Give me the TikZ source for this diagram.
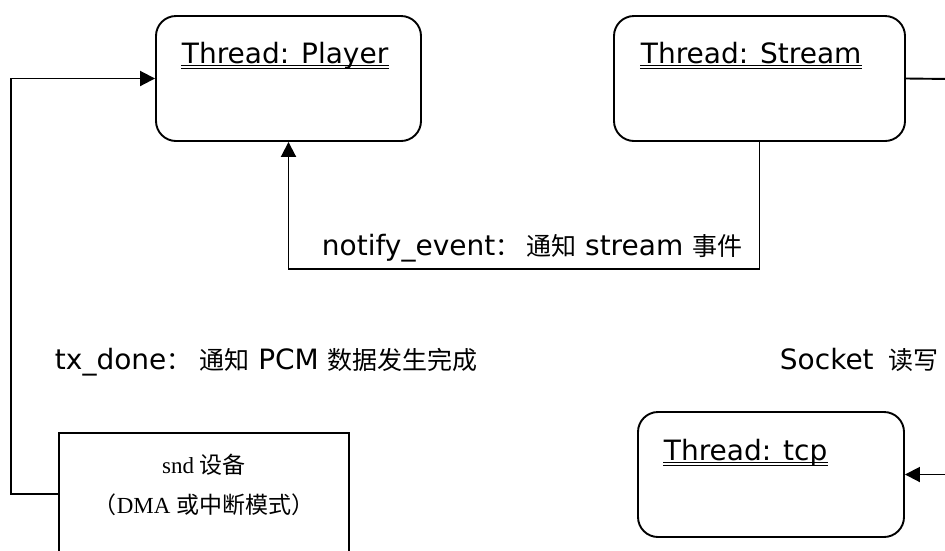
\documentclass[tikz,border=0pt]{standalone}
\usepackage{fontspec}
\setmainfont{DejaVu Sans}
\newfontfamily\cjk{Noto Sans CJK SC}
\newfontfamily\timesrm{Liberation Serif}
\usetikzlibrary{arrows.meta}

% Chinese run inside a Latin label
\newcommand{\zh}[1]{{\cjk\fontsize{25}{30}\selectfont #1}}

\begin{document}
\begin{tikzpicture}[x=1pt,y=-1pt,line width=1.9pt,
  thread/.style={draw,rounded corners=20pt,minimum width=#1,minimum height=125pt,inner sep=0pt},
  device/.style={draw,minimum width=290pt,minimum height=150pt,inner sep=0pt},
  title/.style={anchor=base west,inner sep=0pt,font=\fontsize{28}{32}\selectfont},
  label/.style={anchor=base west,inner sep=0pt,font=\fontsize{28}{32}\selectfont},
  arr/.style={-{Triangle[length=15pt,width=15pt]}}]

\useasboundingbox (0,0) rectangle (945,550);
\clip (0,0) rectangle (945,550);

% thread boxes
\node[thread=265pt] (player) at (288.5,78.5) {};
\node[thread=291pt] (stream) at (759.5,78.5) {};
\node[thread=266pt] (tcp)    at (771,474.5) {};
% sound device
\node[device] (snd) at (204,508) {};

% titles with double underline
\newcommand{\dblul}[1]{%
  \draw[line width=0.9pt] ([yshift=-2pt]#1.base west) -- ([yshift=-2pt]#1.base east);
  \draw[line width=0.9pt] ([yshift=-5pt]#1.base west) -- ([yshift=-5pt]#1.base east);}
\node[title] (tplayer) at (181,63) {Thread: Player};
\node[title] (tstream) at (640,63) {Thread: Stream};
\node[title] (ttcp)    at (663,460) {Thread: tcp};
\dblul{tplayer}
\dblul{tstream}
\dblul{ttcp}

% device text
\node[align=center,font=\timesrm\fontsize{23}{40}\selectfont] (sndtxt) at (204,485)
  {snd {\cjk 设备}\\{\cjk （}DMA {\cjk 或中断模式）}};

% connection labels
\node[label] (lnotify) at (321,255) {notify\_event\zh{：}\hspace{6pt}\zh{通知} stream \zh{事件}};
\node[label] (ltx) at (54,369) {tx\_done\zh{：}\hspace{8pt}\zh{通知} PCM \zh{数据发生完成}};
\node[label] (lsock) at (779,369) {Socket \hspace{6pt}\zh{读写}};

% connectors
\coordinate (sout) at (950,79);
\coordinate (tin)  at (950,474.5);
\draw[arr] ([yshift=-62pt]snd.north west) -- ++(-47,0) |- (player.west);
\draw[arr] (stream.south) -- ++(0,127) -| (player.south);
\draw (stream.east) -- (sout);
\draw[arr] (tin) -- (tcp.east);
\end{tikzpicture}
\end{document}
